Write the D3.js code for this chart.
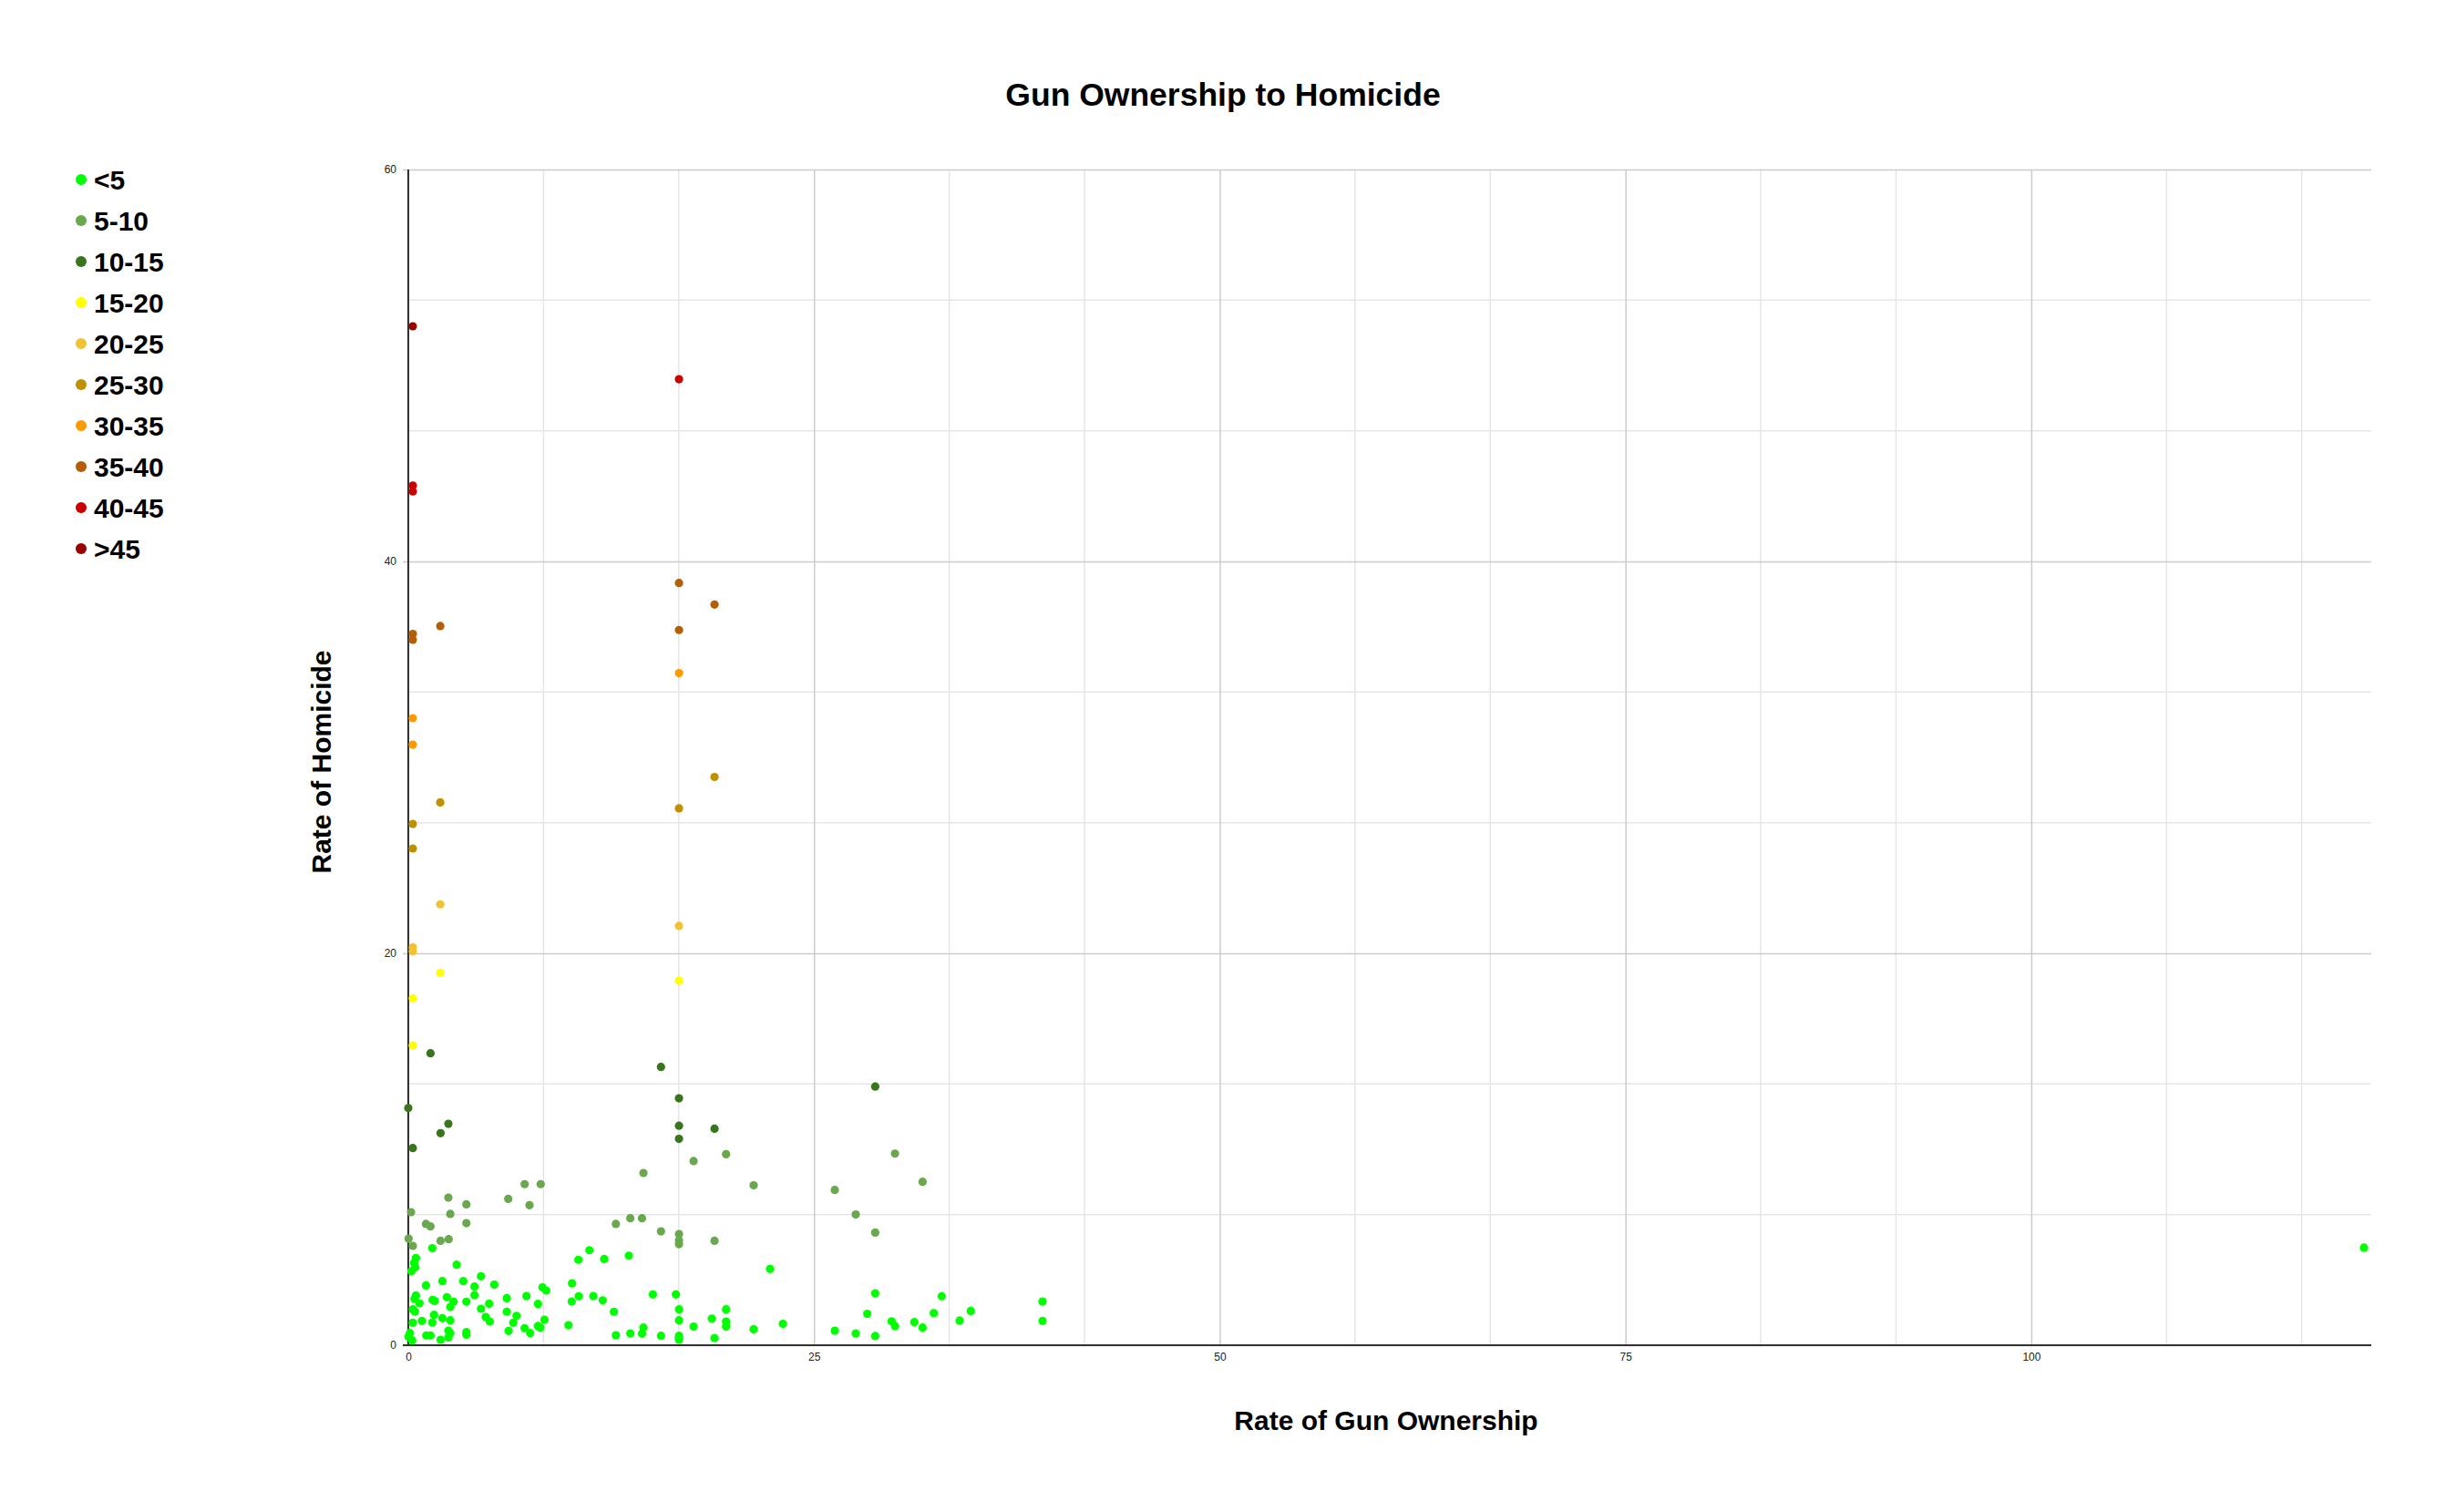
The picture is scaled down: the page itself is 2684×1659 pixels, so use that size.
<!DOCTYPE html>
<html>
<head lang="en">
  <meta charset="UTF-8">
  <title>Gun Ownership to Homicide</title>
  <script src="https://cdn.jsdelivr.net/npm/d3@7"></script>
</head>
<style>
  body { margin: 0; background: #fff; }
  #chart text { font-family: Arial, "Liberation Sans", sans-serif; }
  .tick text { font-size: 12px; fill: #222; }
  .domain { display: none; }
</style>
<body>

<svg id="chart"></svg>

<script>
  // Legend categories (homicide rate bands) and their colours
  var categories = ['<5', '5-10', '10-15', '15-20', '20-25', '25-30', '30-35', '35-40', '40-45', '>45'];
  var colors     = ['#00ff00', '#6aa84f', '#38761d', '#ffff00', '#f1c232', '#bf9000', '#ff9900', '#b45f06', '#cc0000', '#990000'];

  var xTicks = [0, 25, 50, 75, 100];
  var yTicks = [0, 20, 40, 60];

  // [gun ownership, homicide] per band
  var below5 = [
    [1.48, 4.95], [0.47, 4.45], [0.36, 4.20], [0.43, 3.98], [0.19, 3.78], [2.98, 4.11], [10.48, 4.36],
    [11.16, 4.85], [4.48, 3.52], [2.10, 3.27], [3.39, 3.27], [1.09, 3.05], [4.08, 2.99], [5.30, 3.09],
    [8.27, 2.95], [8.50, 2.79], [10.09, 3.16], [4.08, 2.56], [0.47, 2.54], [0.38, 2.37], [0.69, 2.14],
    [1.50, 2.31], [1.63, 2.26], [2.38, 2.45], [2.79, 2.22], [2.59, 1.95], [3.58, 2.22], [6.07, 2.40],
    [7.28, 2.51], [7.99, 2.11], [10.50, 2.50], [10.07, 2.23], [11.40, 2.51], [4.48, 1.86], [4.98, 2.12],
    [0.28, 1.83], [0.41, 1.72], [1.59, 1.55], [2.10, 1.38], [2.59, 1.27], [4.77, 1.44], [5.02, 1.21],
    [6.07, 1.71], [6.67, 1.50], [6.47, 1.15], [8.39, 1.30], [7.99, 0.98], [8.14, 0.90], [9.87, 1.02],
    [0.28, 1.15], [0.84, 1.24], [1.48, 1.16], [6.18, 0.73], [7.17, 0.87], [7.51, 0.62], [0.10, 0.62],
    [0.02, 0.43], [0.24, 0.25], [1.11, 0.50], [1.37, 0.50], [1.99, 0.28], [2.47, 0.74], [2.59, 0.62],
    [2.47, 0.39], [3.58, 0.67], [3.58, 0.54],
    [12.07, 4.40], [13.59, 4.57], [22.29, 3.89], [11.98, 2.29], [12.67, 1.71], [15.07, 2.59],
    [16.49, 2.59], [16.68, 1.83], [16.68, 1.27], [16.68, 0.48], [16.68, 0.37], [16.68, 0.28],
    [19.58, 1.83], [19.58, 1.21], [19.58, 0.95], [18.70, 1.36], [17.58, 0.95], [14.49, 0.90],
    [14.40, 0.59], [13.68, 0.60], [12.79, 0.51], [15.57, 0.48], [18.87, 0.36], [21.28, 0.81],
    [23.08, 1.09],
    [28.77, 2.65], [32.87, 2.50], [28.28, 1.60], [32.38, 1.64], [34.66, 1.75], [33.97, 1.26],
    [29.78, 1.22], [29.99, 0.98], [31.18, 1.18], [31.69, 0.90], [26.28, 0.74], [27.57, 0.60],
    [28.77, 0.47], [39.08, 2.23], [39.08, 1.24],
    [120.5, 4.98]
  ];
  var from5to10 = [
    [7.17, 8.22], [8.16, 8.22], [2.47, 7.53], [3.58, 7.19], [6.16, 7.47], [7.47, 7.15], [0.17, 6.79],
    [2.59, 6.70], [1.09, 6.19], [1.37, 6.06], [3.58, 6.23], [0.02, 5.44], [0.28, 5.07], [1.99, 5.33],
    [2.49, 5.41],
    [14.49, 8.79], [17.58, 9.40], [19.58, 9.75], [21.28, 8.16], [12.79, 6.19], [13.68, 6.48],
    [14.40, 6.48], [15.57, 5.81], [16.68, 5.67], [16.68, 5.35], [16.68, 5.16], [18.87, 5.33],
    [29.99, 9.78], [31.69, 8.34], [26.28, 7.92], [27.57, 6.67], [28.77, 5.75]
  ];
  var from10to15 = [
    [1.37, 14.9], [15.57, 14.2], [28.77, 13.2], [16.68, 12.6], [0.0, 12.1], [2.47, 11.3],
    [16.68, 11.2], [18.87, 11.05], [1.99, 10.82], [16.68, 10.53], [0.28, 10.06]
  ];
  var from15to20 = [[16.68, 18.6], [1.97, 19.0], [0.28, 17.7], [0.28, 15.3]];
  var from20to25 = [[1.97, 22.5], [16.68, 21.4], [0.28, 20.3], [0.28, 20.1]];
  var from25to30 = [[18.87, 29.0], [16.68, 27.4], [1.97, 27.7], [0.28, 26.6], [0.28, 25.35]];
  var from30to35 = [[16.68, 34.3], [0.28, 32.0], [0.28, 30.65]];
  var from35to40 = [[16.68, 38.9], [18.87, 37.8], [16.68, 36.5], [1.97, 36.7], [0.28, 36.3], [0.28, 36.0]];
  var from40to45 = [[16.68, 49.3], [0.28, 43.87], [0.28, 43.57]];
  var above45    = [[0.28, 52.0]];

  var series = [below5, from5to10, from10to15, from15to20, from20to25,
                from25to30, from30to35, from35to40, from40to45, above45];

  var width  = 2684;
  var height = 1659;
  var plot   = { left: 448, right: 2602, top: 186, bottom: 1476 };

  var svg = d3.select('#chart')
    .attr('width', width)
    .attr('height', height);

  var x = d3.scaleLinear().domain([0, 120.95]).range([plot.left, plot.right]);
  var y = d3.scaleLinear().domain([0, 60]).range([plot.bottom, plot.top]);

  // Minor gridlines (thirds of each major step)
  var xMinor = d3.range(0, 121, 25 / 3).filter(function (v) { return Math.abs(v / 25 - Math.round(v / 25)) > 0.01; });
  var yMinor = d3.range(0, 60, 20 / 3).filter(function (v) { return Math.abs(v / 20 - Math.round(v / 20)) > 0.01; });

  svg.append('g').selectAll('line')
    .data(xMinor).enter().append('line')
    .attr('x1', x).attr('x2', x)
    .attr('y1', plot.top).attr('y2', plot.bottom)
    .attr('stroke', '#e6e6e6').attr('stroke-width', 1.5);

  svg.append('g').selectAll('line')
    .data(yMinor).enter().append('line')
    .attr('x1', plot.left).attr('x2', plot.right)
    .attr('y1', y).attr('y2', y)
    .attr('stroke', '#e6e6e6').attr('stroke-width', 1.5);

  // Major gridlines via axes
  var xAxis = svg.append('g')
    .attr('transform', 'translate(0,' + plot.bottom + ')')
    .call(d3.axisBottom(x).tickValues(xTicks).tickSize(-(plot.bottom - plot.top)).tickPadding(8));
  xAxis.selectAll('.tick line').attr('stroke', '#cccccc').attr('stroke-width', 1.5);

  var yAxis = svg.append('g')
    .attr('transform', 'translate(' + plot.left + ',0)')
    .call(d3.axisLeft(y).tickValues(yTicks).tickSizeInner(-(plot.right - plot.left)).tickPadding(13));
  yAxis.selectAll('.tick line')
    .attr('x1', -6)
    .attr('stroke', '#cccccc').attr('stroke-width', 1.5);

  // Base axis lines
  svg.append('line')
    .attr('x1', plot.left).attr('x2', plot.left)
    .attr('y1', plot.top).attr('y2', plot.bottom)
    .attr('stroke', '#333').attr('stroke-width', 2);
  svg.append('line')
    .attr('x1', plot.left - 6).attr('x2', plot.right)
    .attr('y1', plot.bottom).attr('y2', plot.bottom)
    .attr('stroke', '#333').attr('stroke-width', 2);

  // Points
  series.forEach(function (pts, i) {
    svg.append('g').selectAll('circle')
      .data(pts).enter().append('circle')
      .attr('cx', function (d) { return x(d[0]); })
      .attr('cy', function (d) { return y(d[1]); })
      .attr('r', 4.6)
      .attr('fill', colors[i]);
  });

  // Titles
  svg.append('text')
    .attr('x', 1342).attr('y', 116)
    .attr('text-anchor', 'middle')
    .style('font-size', '35.5px').style('font-weight', 'bold')
    .text('Gun Ownership to Homicide');

  svg.append('text')
    .attr('x', 1521).attr('y', 1569)
    .attr('text-anchor', 'middle')
    .style('font-size', '30px').style('font-weight', 'bold')
    .text('Rate of Gun Ownership');

  svg.append('text')
    .attr('transform', 'translate(363,836) rotate(-90)')
    .attr('text-anchor', 'middle')
    .style('font-size', '30px').style('font-weight', 'bold')
    .text('Rate of Homicide');

  // Legend
  var legend = svg.append('g').selectAll('g')
    .data(categories).enter().append('g')
    .attr('transform', function (d, i) { return 'translate(89,' + (197 + i * 45) + ')'; });

  legend.append('circle')
    .attr('r', 6)
    .attr('fill', function (d, i) { return colors[i]; });

  legend.append('text')
    .attr('x', 14).attr('dy', '0.35em')
    .style('font-size', '30px').style('font-weight', 'bold')
    .text(function (d) { return d; });
</script>
</body>
</html>
